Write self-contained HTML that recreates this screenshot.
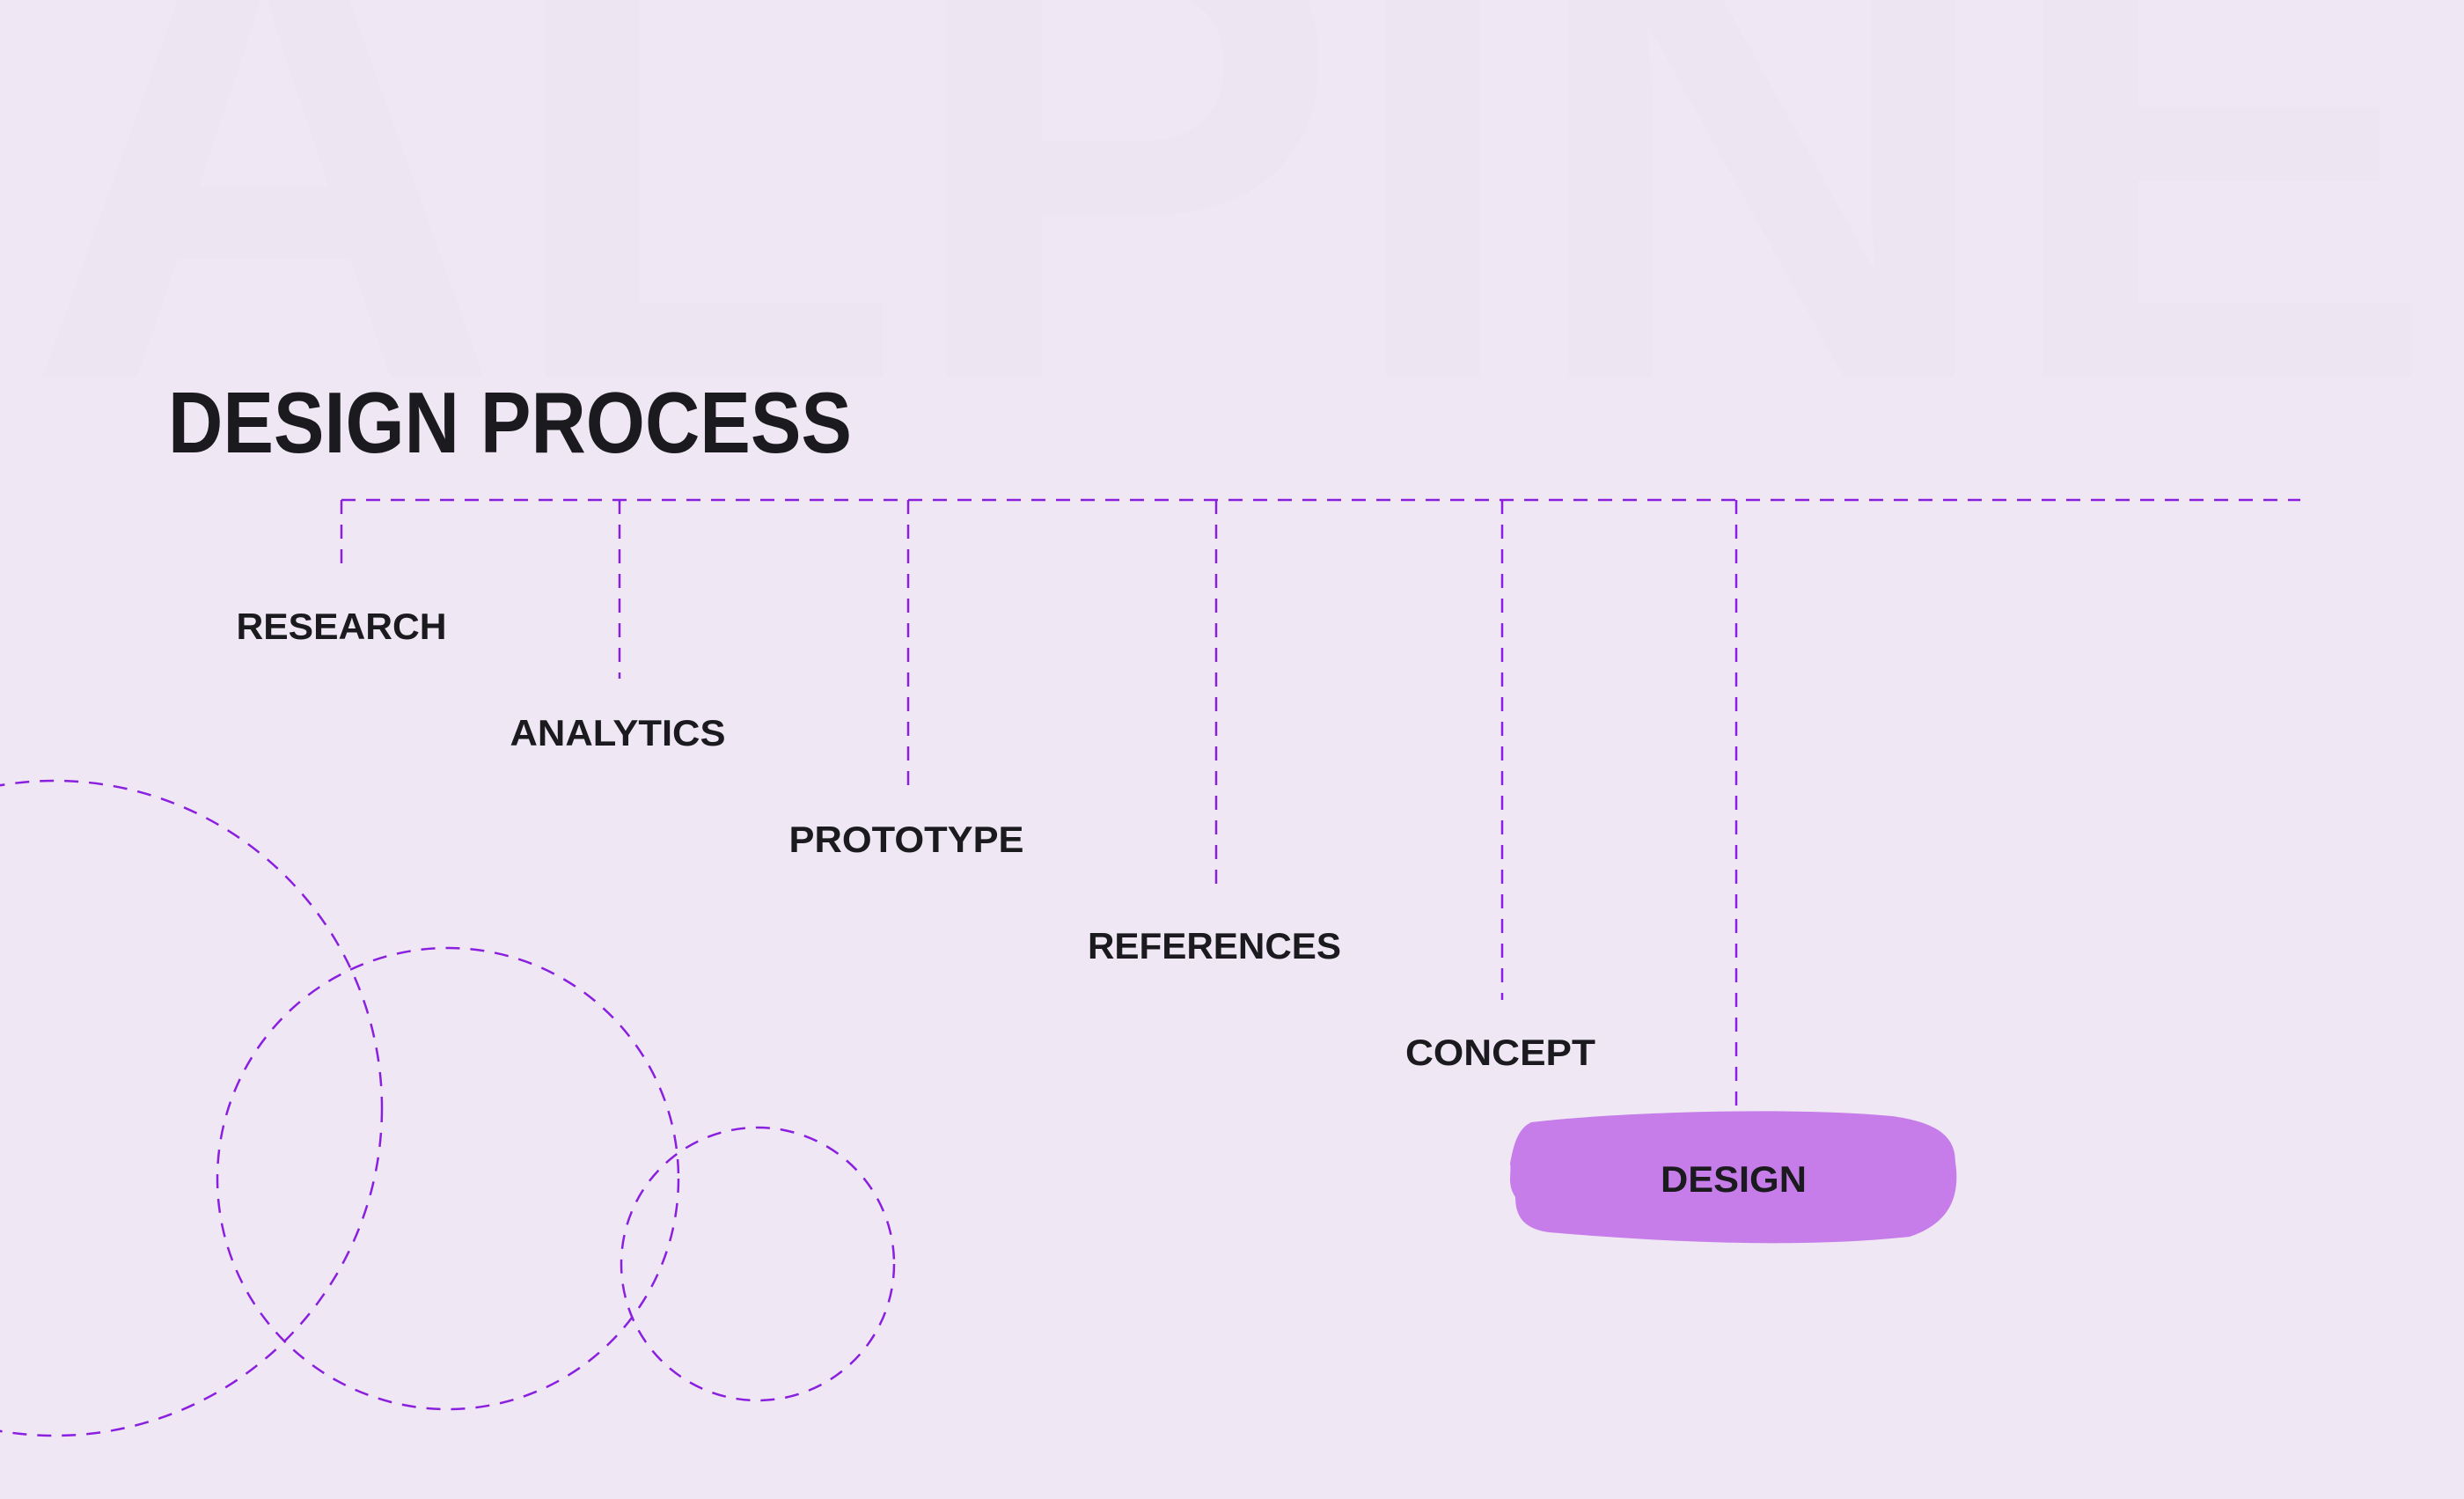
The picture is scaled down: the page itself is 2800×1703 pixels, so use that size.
<!DOCTYPE html>
<html><head><meta charset="utf-8"><style>
html,body{margin:0;padding:0;background:#efe8f4;}
svg{display:block}
</style></head><body>
<svg width="2800" height="1703" viewBox="0 0 2800 1703" xmlns="http://www.w3.org/2000/svg">
<rect width="2800" height="1703" fill="#efe8f4"/>
<text x="30" y="428" font-family="Liberation Sans, sans-serif" font-weight="bold" font-size="760" fill="#ede5f2" textLength="2740" lengthAdjust="spacingAndGlyphs">ALPINE</text>
<text x="191" y="514" font-family="Liberation Sans, sans-serif" font-weight="bold" font-size="98" fill="#1b1a1e" textLength="777" lengthAdjust="spacingAndGlyphs">DESIGN PROCESS</text>
<g stroke="#8a1fe0" stroke-width="2.5" fill="none" stroke-dasharray="16 12">
<line x1="388" y1="568" x2="2614" y2="568"/>
<line x1="388" y1="568" x2="388" y2="652"/>
<line x1="704" y1="568" x2="704" y2="771"/>
<line x1="1032" y1="568" x2="1032" y2="893"/>
<line x1="1382" y1="568" x2="1382" y2="1014"/>
<line x1="1707" y1="568" x2="1707" y2="1136"/>
<line x1="1973" y1="568" x2="1973" y2="1259"/>
<circle cx="62" cy="1259" r="372"/>
<circle cx="509" cy="1339" r="262"/>
<circle cx="861" cy="1436" r="155"/>
</g>
<path d="M1740 1275 C1850 1262 2050 1258 2150 1268 C2200 1275 2222 1290 2222 1320 C2228 1360 2215 1390 2170 1405 C2050 1418 1900 1412 1760 1400 C1730 1396 1722 1380 1722 1360 C1712 1345 1718 1333 1716 1322 C1720 1300 1725 1282 1740 1275 Z" fill="#c67de9"/>
<g font-family="Liberation Sans, sans-serif" font-weight="bold" font-size="42" fill="#1b1a1e" text-anchor="middle">
<text x="388" y="726" textLength="239" lengthAdjust="spacingAndGlyphs">RESEARCH</text>
<text x="702" y="847" textLength="245" lengthAdjust="spacingAndGlyphs">ANALYTICS</text>
<text x="1030" y="968" textLength="267" lengthAdjust="spacingAndGlyphs">PROTOTYPE</text>
<text x="1380" y="1089" textLength="288" lengthAdjust="spacingAndGlyphs">REFERENCES</text>
<text x="1705" y="1210" textLength="216" lengthAdjust="spacingAndGlyphs">CONCEPT</text>
<text x="1970" y="1354" textLength="166" lengthAdjust="spacingAndGlyphs">DESIGN</text>
</g>
</svg>
</body></html>
